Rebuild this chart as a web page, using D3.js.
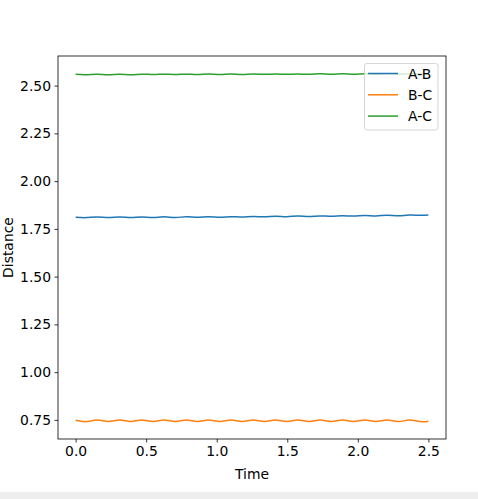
<!DOCTYPE html>
<html>
<head>
<meta charset="utf-8">
<script src="https://cdn.jsdelivr.net/npm/d3@7"></script>
<style>
  body { margin: 0; background: #fff; }
  svg { display: block; font-family: "DejaVu Sans", sans-serif; }
</style>
</head>
<body>
<div id="chart"></div>
<script>
// sample times (peaks / troughs)
var times = [0, 0.074, 0.153, 0.232, 0.311, 0.390, 0.469, 0.548, 0.627, 0.706, 0.785,
  0.864, 0.943, 1.022, 1.101, 1.180, 1.259, 1.338, 1.417, 1.496, 1.575, 1.654,
  1.733, 1.812, 1.891, 1.970, 2.049, 2.128, 2.207, 2.286, 2.365, 2.444, 2.5];
var distAB = [1.811, 1.809, 1.812, 1.809, 1.812, 1.810, 1.812, 1.810, 1.813, 1.810, 1.813,
  1.811, 1.814, 1.811, 1.814, 1.812, 1.815, 1.813, 1.816, 1.814, 1.817, 1.815,
  1.818, 1.816, 1.819, 1.817, 1.820, 1.818, 1.821, 1.819, 1.822, 1.821, 1.823];
var distBC = [0.748, 0.741, 0.749, 0.741, 0.749, 0.741, 0.749, 0.741, 0.749, 0.741, 0.749,
  0.741, 0.749, 0.741, 0.749, 0.741, 0.749, 0.741, 0.749, 0.741, 0.749, 0.741,
  0.749, 0.741, 0.749, 0.741, 0.749, 0.741, 0.749, 0.741, 0.749, 0.741, 0.743];
var distAC = [2.559, 2.557, 2.560, 2.557, 2.560, 2.557, 2.560, 2.558, 2.560, 2.558, 2.560,
  2.558, 2.561, 2.558, 2.561, 2.558, 2.561, 2.559, 2.561, 2.559, 2.561, 2.559,
  2.562, 2.559, 2.562, 2.560, 2.562, 2.560, 2.562, 2.560, 2.562, 2.561, 2.562];
var seriesNames = ["A-B", "B-C", "A-C"];
var colors = ["#1f77b4", "#ff7f0e", "#2ca02c"];
var xTicks = [0, 0.5, 1.0, 1.5, 2.0, 2.5];
var yTicks = [0.75, 1.00, 1.25, 1.50, 1.75, 2.00, 2.25, 2.50];

var W = 478, H = 499;
var plotL = 58, plotR = 446, plotT = 56, plotB = 439;

var svg = d3.select("#chart").append("svg")
  .attr("width", W).attr("height", H);

svg.append("rect").attr("x", 0).attr("y", 0).attr("width", W).attr("height", H).attr("fill", "#fff");
// grey strip at the bottom of the page
svg.append("rect").attr("x", 0).attr("y", 492).attr("width", W).attr("height", 7).attr("fill", "#eeeeee");

var x = d3.scaleLinear().domain([-0.125, 2.625]).range([plotL, plotR]);
var y = d3.scaleLinear().domain([0.65, 2.655]).range([plotB, plotT]);

var xAxis = svg.append("g")
  .attr("transform", "translate(0," + plotB + ")")
  .call(d3.axisBottom(x).tickValues(xTicks).tickFormat(d3.format(".1f")).tickSizeInner(3.5).tickSizeOuter(0).tickPadding(3.5));
var yAxis = svg.append("g")
  .attr("transform", "translate(" + plotL + ",0)")
  .call(d3.axisLeft(y).tickValues(yTicks).tickFormat(d3.format(".2f")).tickSizeInner(3.5).tickSizeOuter(0).tickPadding(3.5));
[xAxis, yAxis].forEach(function(a) {
  a.select(".domain").remove();
  a.selectAll("line").attr("stroke", "#000").attr("stroke-width", 0.8);
  a.selectAll("text").attr("fill", "#000").style("font-size", "13.9px").style("font-family", "DejaVu Sans");
});

var series = [distAB, distBC, distAC];
var line = d3.line()
  .x(function(d, i) { return x(times[i]); })
  .y(function(d) { return y(d); })
  .curve(d3.curveNatural);

svg.append("g").selectAll("path")
  .data(series)
  .enter()
  .append("path")
  .attr("d", line)
  .attr("fill", "none")
  .attr("stroke", function(d, i) { return colors[i]; })
  .attr("stroke-width", 1.5);

// frame
svg.append("rect")
  .attr("x", plotL).attr("y", plotT)
  .attr("width", plotR - plotL).attr("height", plotB - plotT)
  .attr("fill", "none").attr("stroke", "#000").attr("stroke-width", 0.8);

// axis labels
svg.append("text")
  .attr("x", (plotL + plotR) / 2).attr("y", 479)
  .attr("text-anchor", "middle")
  .style("font-size", "13.9px")
  .text("Time");
svg.append("text")
  .attr("transform", "translate(12.5," + ((plotT + plotB) / 2) + ") rotate(-90)")
  .attr("text-anchor", "middle")
  .style("font-size", "13.9px")
  .text("Distance");

// legend
var lg = svg.append("g");
lg.append("rect")
  .attr("x", 364.5).attr("y", 63.5).attr("width", 73.5).attr("height", 66.5)
  .attr("rx", 2.5)
  .attr("fill", "#fff").attr("fill-opacity", 0.8)
  .attr("stroke", "#cccccc").attr("stroke-width", 0.8);
seriesNames.forEach(function(name, i) {
  var ly = 73.5 + i * 21.3;
  lg.append("line")
    .attr("x1", 368).attr("x2", 398).attr("y1", ly).attr("y2", ly)
    .attr("stroke", colors[i]).attr("stroke-width", 1.5);
  lg.append("text")
    .attr("x", 408).attr("y", ly + 5)
    .style("font-size", "13.9px")
    .text(name);
});
</script>
</body>
</html>
